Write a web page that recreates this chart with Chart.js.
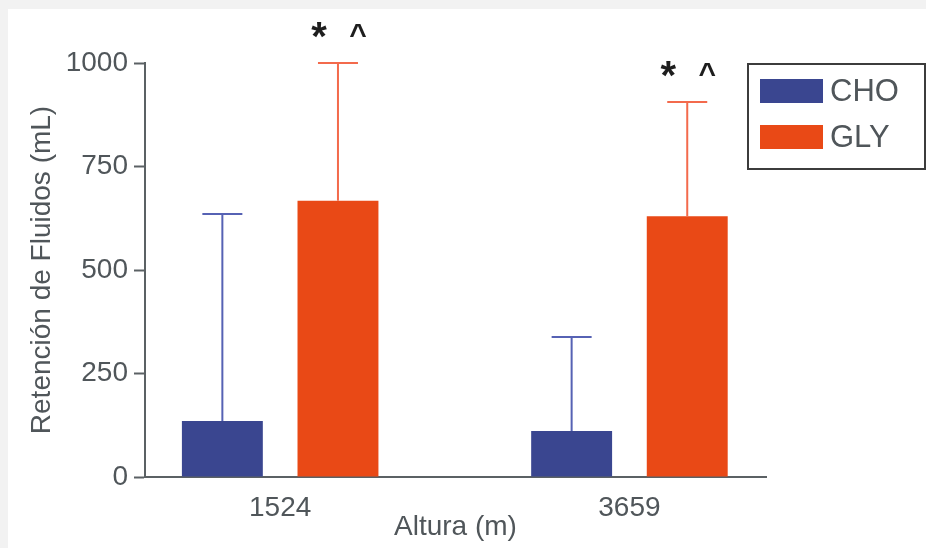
<!DOCTYPE html>
<html>
<head>
<meta charset="utf-8">
<script src="https://cdn.jsdelivr.net/npm/chart.js@4.4.1/dist/chart.umd.min.js"></script>
<style>
html,body{margin:0;padding:0;background:#ffffff;}
#wrap{width:926px;height:548px;position:relative;}
</style>
</head>
<body>
<div id="wrap"><canvas id="c" width="926" height="548"></canvas></div>
<script>
// ---- data ----
const categories = ['1524', '3659'];
const seriesNames = ['CHO', 'GLY'];
const choValues = [135, 111];
const glyValues = [667, 630];
const choErrors = [500, 227];
const glyErrors = [333, 276];
const glyMarks = [['*', '^'], ['*', '^']];
const yTickValues = [0, 250, 500, 750, 1000];
const yTitle = 'Retención de Fluidos (mL)';
const xTitle = 'Altura (m)';

// ---- styles ----
const FONT = '"Liberation Sans", Arial, sans-serif';
const TEXT = '#50565a';
const AXIS = '#5b6164';
const barColors = ['#3a4690', '#e94916'];
const errColors = ['#5662b4', '#f36a4c'];

const errorArrays = [choErrors, glyErrors];
const markArrays = [null, glyMarks];

const framePlugin = {
  id: 'frame',
  beforeDraw(chart) {
    const ctx = chart.ctx;
    ctx.save();
    ctx.fillStyle = '#f2f2f2';
    ctx.fillRect(0, 0, chart.width, chart.height);
    ctx.fillStyle = '#ffffff';
    ctx.fillRect(8, 9, chart.width - 8, chart.height - 9);
    ctx.restore();
  }
};

const errorPlugin = {
  id: 'errbars',
  afterDatasetsDraw(chart) {
    const ctx = chart.ctx;
    const y = chart.scales.y;
    ctx.save();
    chart.data.datasets.forEach((ds, di) => {
      const meta = chart.getDatasetMeta(di);
      const errs = errorArrays[di];
      meta.data.forEach((bar, i) => {
        const v = ds.data[i].y;
        const topPx = y.getPixelForValue(v + errs[i]);
        ctx.strokeStyle = errColors[di];
        ctx.lineWidth = 2;
        ctx.beginPath();
        ctx.moveTo(bar.x, bar.y);
        ctx.lineTo(bar.x, topPx);
        ctx.moveTo(bar.x - 20, topPx);
        ctx.lineTo(bar.x + 20, topPx);
        ctx.stroke();
        const marks = markArrays[di];
        if (marks && marks[i]) {
          ctx.fillStyle = '#1e1e1e';
          ctx.textAlign = 'center';
          ctx.textBaseline = 'alphabetic';
          const cy = topPx - 36;
          ctx.font = 'bold 40px ' + FONT;
          ctx.fillText(marks[i][0], bar.x - 19, cy + 23);
          ctx.font = 'bold 30px ' + FONT;
          ctx.fillText(marks[i][1], bar.x + 20, cy + 17);
        }
      });
    });
    ctx.restore();
  }
};

const legendPlugin = {
  id: 'boxLegend',
  afterDraw(chart) {
    const ctx = chart.ctx;
    const a = chart.chartArea;
    const left = a.right - 18, top = a.top;
    ctx.save();
    ctx.strokeStyle = '#3c3c3c';
    ctx.lineWidth = 2;
    ctx.strokeRect(left, top + 1, 177, 105);
    chart.data.datasets.forEach((ds, di) => {
      const rowY = top + 16 + di * 46;
      ctx.fillStyle = barColors[di];
      ctx.fillRect(left + 12, rowY, 63, 24);
      ctx.fillStyle = TEXT;
      ctx.font = '31px ' + FONT;
      ctx.textAlign = 'left';
      ctx.textBaseline = 'middle';
      ctx.fillText(ds.label, left + 82, rowY + 13);
    });
    ctx.restore();
  }
};

new Chart(document.getElementById('c'), {
  type: 'bar',
  data: {
    datasets: [
      { label: seriesNames[0], data: choValues.map((v, i) => ({ x: i, y: v })), backgroundColor: barColors[0], borderWidth: 0 },
      { label: seriesNames[1], data: glyValues.map((v, i) => ({ x: i, y: v })), backgroundColor: barColors[1], borderWidth: 0 }
    ]
  },
  options: {
    responsive: false,
    animation: false,
    devicePixelRatio: 1,
    layout: { padding: { top: 63, right: 160, left: 0, bottom: 0 } },
    datasets: { bar: { categoryPercentage: 0.662, barPercentage: 0.70 } },
    plugins: { legend: { display: false }, tooltip: { enabled: false } },
    scales: {
      x: {
        type: 'linear',
        min: -0.387,
        max: 1.391,
        bounds: 'data',
        offset: false,
        grid: { display: false },
        border: { display: true, color: AXIS, width: 2 },
        afterBuildTicks: s => { s.ticks = categories.map((c, i) => ({ value: i })); },
        ticks: {
          callback: v => categories[v],
          color: TEXT,
          font: { family: FONT, size: 28 },
          padding: 6,
          maxRotation: 0,
          autoSkip: false
        },
        title: { display: true, text: xTitle, color: TEXT, font: { family: FONT, size: 28 }, padding: { top: 0, bottom: 4 } },
        afterFit: s => { s.height = 71; }
      },
      y: {
        min: 0,
        max: 1000,
        afterBuildTicks: s => { s.ticks = yTickValues.map(v => ({ value: v })); },
        grid: { drawOnChartArea: false, drawTicks: true, tickLength: 11, tickColor: AXIS, tickWidth: 2 },
        border: { display: true, color: AXIS, width: 2 },
        ticks: { color: TEXT, font: { family: FONT, size: 28 }, padding: 6, callback: v => String(v) },
        title: { display: true, text: yTitle, color: TEXT, font: { family: FONT, size: 28 }, padding: { top: 25, bottom: 0 } },
        afterFit: s => { s.width = 145; }
      }
    }
  },
  plugins: [framePlugin, errorPlugin, legendPlugin]
});
</script>
</body>
</html>
